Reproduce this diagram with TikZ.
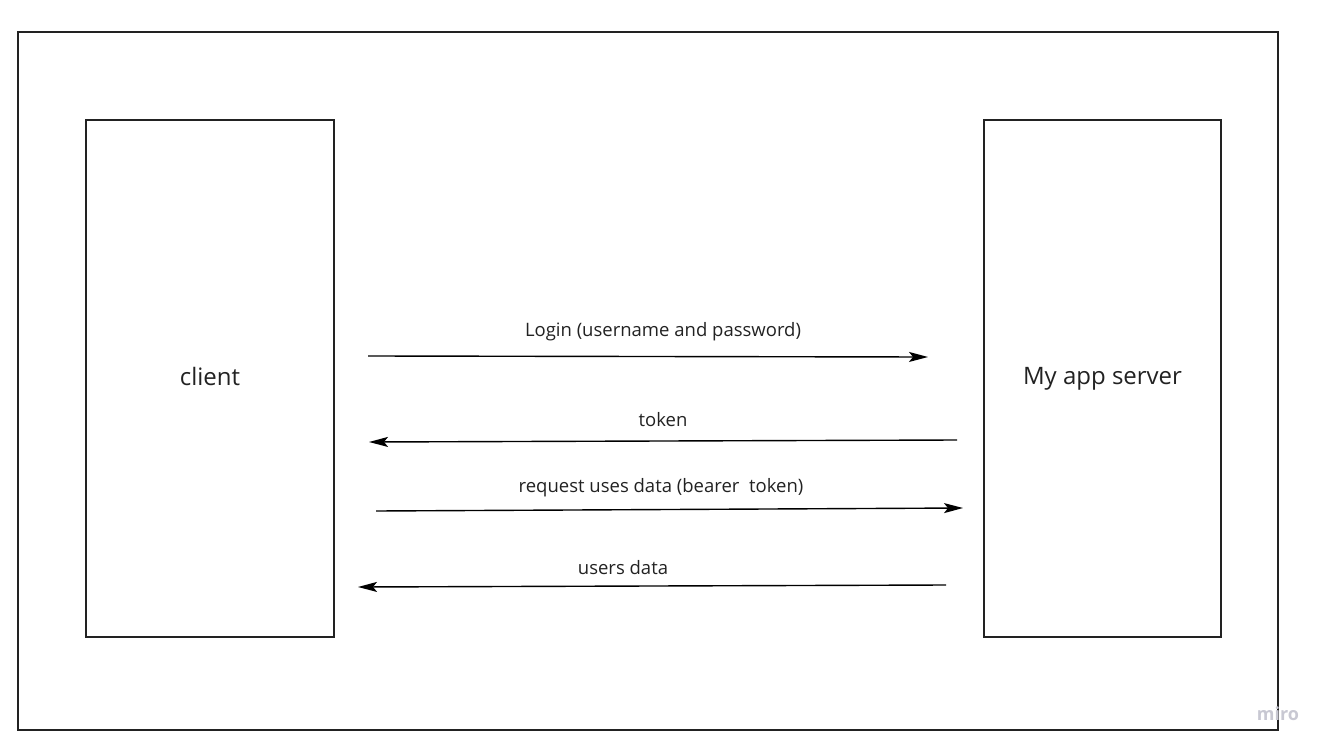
\documentclass[tikz,border=0pt]{standalone}
\usepackage{fontspec}
\setmainfont{Open Sans}
\usepackage{xcolor}
\usetikzlibrary{arrows.meta}
\definecolor{boxline}{RGB}{34,34,34}
\definecolor{wmark}{RGB}{200,200,210}
\begin{document}
\begin{tikzpicture}[inner sep=0pt]
\useasboundingbox (0pt,0pt) rectangle (1329pt,-751pt);
\node (n0) [minimum height=698.0pt, minimum width=1260.0pt,at={(648pt,-381pt)}, draw=boxline, line width=2.6pt, shape=rectangle] {};
\node (n1) [minimum height=517.0pt, minimum width=248.0pt,at={(210pt,-378.5pt)}, draw=boxline, line width=2.6pt, shape=rectangle] {};
\node (n2) [minimum height=517.0pt, minimum width=237.0pt,at={(1102.5pt,-378.5pt)}, draw=boxline, line width=2.6pt, shape=rectangle] {};
\node (t1) [at={(210pt,-376pt)},font=\fontsize{24}{28}\selectfont,text=boxline] {client};
\node (t2) [at={(1102.5pt,-379pt)},font=\fontsize{24}{28}\selectfont,text=boxline] {My app server};
\node (n3) [at={(663pt,-332pt)},font=\fontsize{18.5}{21}\selectfont,text=boxline] {Login (username and password)};
\node (n4) [at={(663pt,-420pt)},font=\fontsize{18.5}{21}\selectfont,text=boxline] {token};
\node (n5) [at={(661pt,-488pt)},font=\fontsize{18.5}{21}\selectfont,text=boxline] {request uses data (bearer\ \ token)};
\node (n6) [at={(623pt,-568pt)},font=\fontsize{18.5}{21}\selectfont,text=boxline] {users data};
\node (n7) [at={(1278pt,-714pt)},font=\bfseries\fontsize{18}{20}\selectfont,text=wmark] {miro};

\coordinate (a0) at (368pt,-356pt);
\coordinate (a1) at (928pt,-357pt);
\coordinate (b0) at (957pt,-440pt);
\coordinate (b1) at (369pt,-442pt);
\coordinate (c0) at (376pt,-511pt);
\coordinate (c1) at (963pt,-508pt);
\coordinate (d0) at (946pt,-585pt);
\coordinate (d1) at (358pt,-587pt);


\path [-{Stealth[length=19pt,width=10pt,inset=4pt]},line width=1.4pt,draw,](a0)--(a1);


\path [-{Stealth[length=19pt,width=10pt,inset=4pt]},line width=1.4pt,draw,](b0)--(b1);


\path [-{Stealth[length=19pt,width=10pt,inset=4pt]},line width=1.4pt,draw,](c0)--(c1);


\path [-{Stealth[length=19pt,width=10pt,inset=4pt]},line width=1.4pt,draw,](d0)--(d1);
\end{tikzpicture}
\end{document}
